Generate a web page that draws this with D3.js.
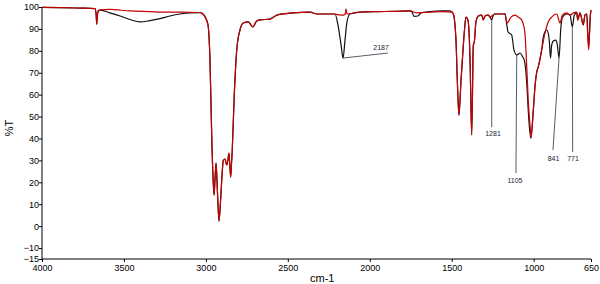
<!DOCTYPE html>
<html>
<head>
<meta charset="utf-8">
<script src="https://cdn.jsdelivr.net/npm/d3@7"></script>
<style>
  body { margin: 0; background: #fff; }
  svg { display: block; font-family: "Liberation Sans", Arial, sans-serif; }
</style>
</head>
<body>
<svg id="chart" width="600" height="284"></svg>
<script>
// axis ticks
const xTicks = [4000, 3500, 3000, 2500, 2000, 1500, 1000, 650];
const yTicks = [100, 90, 80, 70, 60, 50, 40, 30, 20, 10, 0, -10, -15];

// red spectrum [wavenumber, %T]
const redSpectrum = [
  [4000, 99.8], [3890, 99.7], [3768, 99.5], [3677, 99.3], [3670, 97], [3666, 92.2], [3660, 97.5],
  [3655, 98.6], [3585, 98.9], [3463, 98.2], [3341, 97.9], [3262, 97.7], [3158, 97.7], [3036, 97.5],
  [3018, 96.8], [3005, 95.5], [2987, 91.8], [2975, 75.8], [2964, 40], [2955, 20], [2950, 14.2],
  [2944, 22], [2938, 28.8], [2929, 15], [2920, 2.3], [2910, 12], [2900, 25], [2894, 30], [2883, 30.6],
  [2873, 27.9], [2866, 30], [2859, 33.3], [2849, 22.4], [2844, 28], [2839, 34.7], [2828, 57.5],
  [2812, 80], [2792, 89.5], [2772, 92.7], [2741, 93.2], [2714, 90.9], [2690, 93.6], [2670, 94.1],
  [2609, 94.5], [2566, 96.3], [2468, 97.3], [2365, 97.7], [2322, 96.8], [2261, 96.8], [2224, 96.8],
  [2163, 96.3], [2150, 96.8], [2145, 99.1], [2139, 96.8], [2060, 97.7], [1956, 97.9], [1846, 98.0],
  [1754, 98.2], [1712, 97.3], [1632, 97.7], [1553, 97.9], [1498, 97.7], [1490, 96.8], [1474, 84.9],
  [1465, 65], [1456, 50.7], [1443, 66.7], [1433, 78.1], [1422, 89.5], [1413, 95.4], [1401, 94.1],
  [1392, 85], [1388, 75.8], [1378, 41.6], [1368, 82.6], [1362, 84.0], [1352, 93.2], [1338, 95.9],
  [1317, 96.3], [1307, 94.1], [1297, 95.9], [1277, 96.3], [1266, 95.4], [1256, 95.9], [1236, 96.8],
  [1185, 96.8], [1175, 97.0], [1162, 92.7], [1138, 95.4], [1114, 96.3], [1094, 95.4], [1073, 94.1],
  [1062, 91.8], [1053, 88.1], [1042, 72.6], [1033, 57.5], [1018, 42.5], [1015, 40.2], [1002, 53.0],
  [992, 63.5], [981, 70.3], [972, 72.6], [951, 80.4], [931, 88.1], [911, 93.2], [890, 95.4],
  [859, 96.8], [839, 92.7], [825, 96.3], [798, 97.3], [778, 96.3], [758, 97.3], [737, 97.7],
  [731, 94.1], [717, 97.3], [697, 91.8], [687, 96.3], [676, 96.8], [672, 90], [664, 80.4],
  [658, 90], [654, 96.3], [650, 98.6]
];

// black spectrum [wavenumber, %T]
const blackSpectrum = [
  [4000, 99.8], [3890, 99.7], [3768, 99.5], [3677, 99.3], [3670, 97], [3666, 92.2], [3660, 97.5],
  [3646, 98.6], [3585, 97.3], [3524, 95.9], [3463, 94.3], [3402, 93.2], [3341, 93.8], [3280, 94.7],
  [3219, 95.9], [3158, 96.8], [3097, 97.3], [3036, 97.4], [3018, 96.8], [3005, 95.5], [2987, 91.8],
  [2975, 75.8], [2964, 40], [2955, 20], [2950, 14.2], [2944, 22], [2938, 28.8], [2929, 15], [2920, 2.3],
  [2910, 12], [2900, 25], [2894, 30], [2883, 30.6], [2873, 27.9], [2866, 30], [2859, 33.3], [2849, 22.4],
  [2844, 28], [2839, 34.7], [2828, 57.5], [2812, 80], [2792, 89.5], [2772, 92.7], [2741, 93.2],
  [2714, 90.9], [2690, 93.6], [2670, 94.1], [2609, 94.5], [2566, 96.3], [2468, 97.3], [2365, 97.7],
  [2322, 96.8], [2261, 96.8], [2224, 96.8], [2212, 96.8], [2194, 91.8], [2175, 82.6], [2163, 76.7],
  [2151, 84.9], [2139, 93.2], [2121, 96.8], [2060, 97.7], [1956, 97.9], [1846, 98.0], [1754, 98.2],
  [1742, 97.7], [1730, 95.7], [1706, 95.9], [1687, 97.3], [1632, 97.9], [1553, 98.2], [1510, 98.2],
  [1490, 96.8], [1474, 84.9], [1465, 65], [1456, 50.7], [1443, 66.7], [1433, 78.1], [1422, 89.5],
  [1413, 95.4], [1401, 94.1], [1392, 85], [1388, 75.8], [1378, 41.6], [1368, 82.6], [1362, 84.0],
  [1352, 93.2], [1338, 95.9], [1317, 96.3], [1307, 94.1], [1297, 95.9], [1277, 96.3], [1266, 95.4],
  [1256, 94.1], [1246, 96.3], [1236, 96.8], [1185, 96.8], [1175, 96.8], [1164, 91.8], [1156, 88.6],
  [1134, 87.2], [1120, 80.4], [1103, 78.1], [1094, 78.5], [1083, 79.0], [1067, 77.2], [1057, 75.8],
  [1042, 65.3], [1033, 53.0], [1018, 40.2], [1002, 53], [992, 63.5], [981, 70.3], [972, 72.6],
  [951, 80.4], [941, 86.3], [931, 88.6], [920, 89.5], [911, 88.1], [904, 84.0], [897, 76.7],
  [890, 82.6], [880, 84.5], [866, 84.9], [856, 83.1], [845, 76.7], [835, 89.5], [824, 95.4],
  [798, 96.8], [778, 96.3], [764, 90.9], [752, 96.3], [737, 97.3], [731, 94.1], [717, 97.3],
  [697, 91.8], [687, 96.3], [676, 96.8], [664, 82], [654, 96], [650, 98.6]
];

// peak labels and where each callout points (data units)
const peakLabels = ['2187', '1281', '1105', '841', '771'];
const peakTips = [[2163, 76.7], [1256, 94.1], [1103, 78.1], [845, 76.7], [764, 90.9]];
const calloutEnds = [[1889, 79.0], [1256, 45.2], [1108, 24.2], [882, 34.7], [762, 33.8]];
const labelSpots = [[1931, 80.4], [1248, 41.1], [1114, 19.6], [879, 29.7], [760, 29.7]];

const svg = d3.select('#chart');

const x = d3.scaleLinear().domain([4000, 650]).range([42, 591]);
const y = d3.scaleLinear().domain([-15, 100]).range([259, 7]);

// axes
const xAxis = d3.axisBottom(x).tickValues(xTicks).tickSize(3).tickFormat(d3.format('d'));
const yAxis = d3.axisLeft(y).tickValues(yTicks).tickSize(3).tickFormat(d3.format('d'));

svg.append('g')
  .attr('transform', 'translate(0,259)')
  .call(xAxis)
  .call(g => g.select('.domain').attr('d', 'M42,0H591'))
  .call(g => g.selectAll('text').attr('font-size', 9).attr('fill', '#000').attr('dy', '0.62em'));

svg.append('g')
  .attr('transform', 'translate(42,0)')
  .call(yAxis)
  .call(g => g.select('.domain').attr('d', 'M0,7V259'))
  .call(g => g.selectAll('text').attr('font-size', 9).attr('fill', '#000').attr('x', -3));

svg.selectAll('.domain, .tick line').attr('stroke', '#000');

// axis titles
svg.append('text')
  .attr('transform', 'translate(13,128) rotate(-90)')
  .attr('text-anchor', 'middle')
  .attr('font-size', 11)
  .text('%T');

svg.append('text')
  .attr('x', 310)
  .attr('y', 282)
  .attr('font-size', 11)
  .text('cm-1');

// spectra
const line = d3.line()
  .x(d => x(d[0]))
  .y(d => y(d[1]))
  .curve(d3.curveMonotoneX);

svg.append('path')
  .datum(blackSpectrum)
  .attr('fill', 'none')
  .attr('stroke', '#111')
  .attr('stroke-width', 1.2)
  .attr('d', line);

svg.append('path')
  .datum(redSpectrum)
  .attr('fill', 'none')
  .attr('stroke', '#c40000')
  .attr('stroke-width', 1.2)
  .attr('d', line);

// peak callouts
const callouts = svg.append('g');
peakLabels.forEach((label, i) => {
  callouts.append('line')
    .attr('x1', x(peakTips[i][0]))
    .attr('y1', y(peakTips[i][1]))
    .attr('x2', x(calloutEnds[i][0]))
    .attr('y2', y(calloutEnds[i][1]))
    .attr('stroke', '#2a3445')
    .attr('stroke-width', 0.8);
  callouts.append('text')
    .attr('x', x(labelSpots[i][0]))
    .attr('y', y(labelSpots[i][1]))
    .attr('text-anchor', 'middle')
    .attr('font-size', 7)
    .attr('fill', '#1a2233')
    .text(label);
});
</script>
</body>
</html>
